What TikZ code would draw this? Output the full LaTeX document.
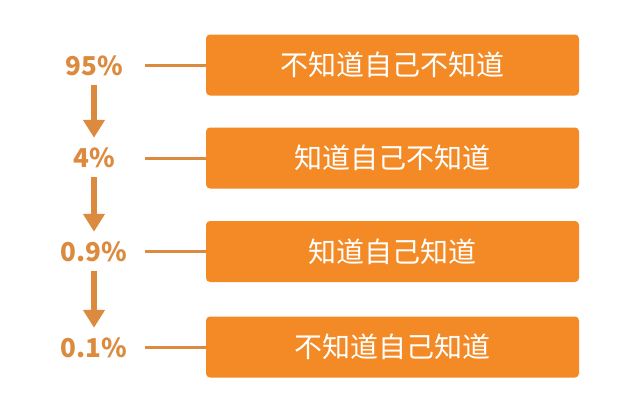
\documentclass[tikz,border=0pt]{standalone}
\usepackage{fontspec}
\setmainfont{Noto Sans CJK SC}
\newfontfamily\cjk{Noto Sans CJK SC}
\usetikzlibrary{arrows.meta}
\definecolor{boxor}{HTML}{F38A26}
\definecolor{pctor}{HTML}{DC8A3E}
\tikzset{
  stagebox/.style={fill=boxor, rounded corners=4pt, minimum width=373pt, minimum height=61pt, inner sep=0pt, text=white, font=\cjk\fontsize{28pt}{32pt}\selectfont},
  pct/.style={text=pctor, font=\cjk\bfseries\fontsize{26pt}{30pt}\selectfont, inner sep=0pt},
  conn/.style={draw=pctor, line width=3pt},
  downarrow/.style={draw=pctor, line width=6.5pt, -{Triangle[length=18pt,width=21pt]}, shorten <=9pt, shorten >=10pt}
}
\begin{document}
\begin{tikzpicture}[x=1pt,y=-1pt]
\useasboundingbox (0,0) rectangle (640,413);
\fill[white] (0,0) rectangle (640,413);
\node[stagebox] (b1) at (392.5,65) {不知道自己不知道};
\node[stagebox] (b2) at (392.5,158) {知道自己不知道};
\node[stagebox] (b3) at (392.5,251.5) {知道自己知道};
\node[stagebox] (b4) at (392.5,347) {不知道自己知道};
\node[pct] (p1) at (94,66) {95\%};
\node[pct] (p2) at (94,158) {4\%};
\node[pct] (p3) at (94,252) {0.9\%};
\node[pct] (p4) at (94,348) {0.1\%};
\draw[conn] (b1.west) -- ++(-61,0) coordinate (c1);
\draw[conn] (b2.west) -- ++(-61,0) coordinate (c2);
\draw[conn] (b3.west) -- ++(-61,0) coordinate (c3);
\draw[conn] (b4.west) -- ++(-61,0) coordinate (c4);
\draw[downarrow] (p1.south) -- (p2.north);
\draw[downarrow] (p2.south) -- (p3.north);
\draw[downarrow] (p3.south) -- (p4.north);
\end{tikzpicture}
\end{document}
